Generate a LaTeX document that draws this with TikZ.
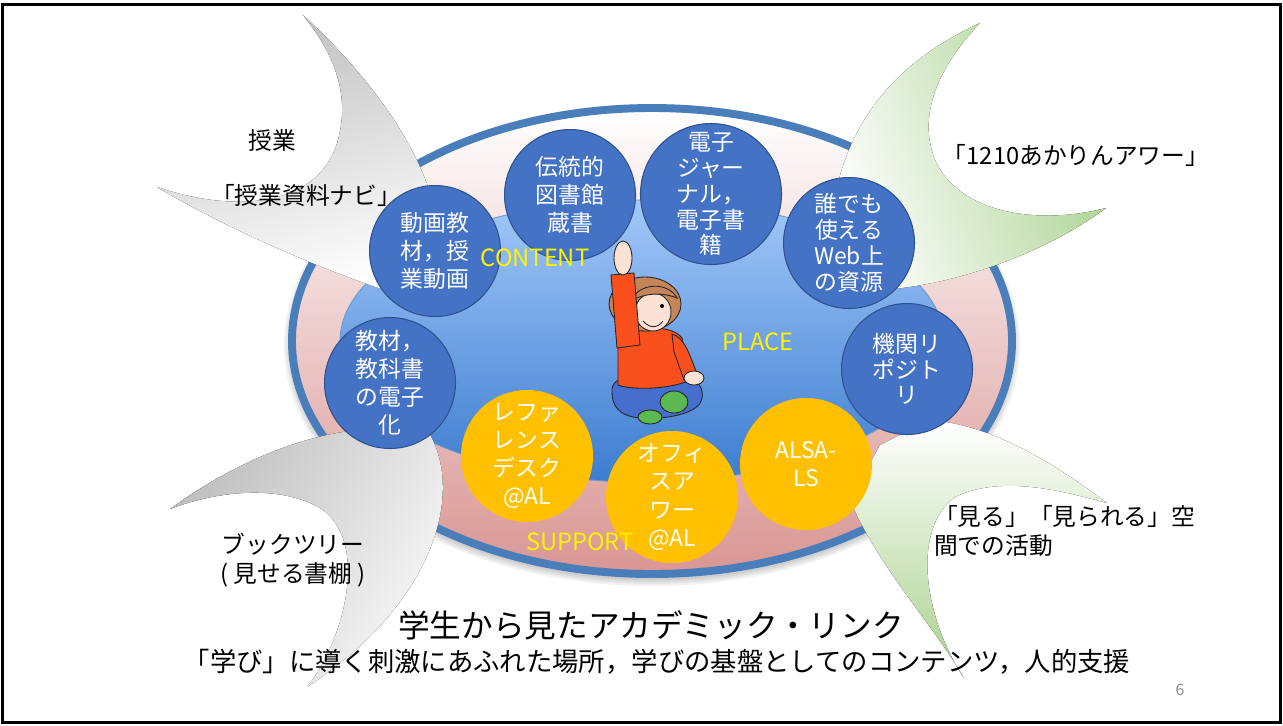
\documentclass[tikz,border=0pt]{standalone}
\usepackage{fontspec}
\setmainfont{Noto Sans CJK JP}

\definecolor{anillo}{RGB}{74,126,187}
\definecolor{rosa}{RGB}{217,150,148}
\definecolor{celeste}{RGB}{162,200,249}
\definecolor{azulfondo}{RGB}{60,124,207}
\definecolor{azulcirc}{RGB}{68,114,196}
\definecolor{azulborde}{RGB}{47,82,143}
\definecolor{amarillo}{RGB}{255,192,0}
\definecolor{verde}{RGB}{169,209,142}
\definecolor{gris}{RGB}{191,191,191}
\definecolor{camisa}{RGB}{250,80,30}
\definecolor{jean}{RGB}{70,110,205}
\definecolor{piel}{RGB}{252,226,212}
\definecolor{pelo}{RGB}{196,134,88}
\definecolor{zapato}{RGB}{92,184,80}

\begin{document}
\begin{tikzpicture}[x=0.02cm, y=-0.02cm]
    % Estilos de los circulos y textos
    \tikzset{
        recurso/.style={circle, fill=azulcirc, draw=azulborde, line width=0.6pt,
            minimum size=2.62cm, inner sep=0pt, text=white, align=center,
            font=\fontsize{13}{16}\selectfont},
        apretado/.style={font=\fontsize{13}{14.7}\selectfont},
        apoyo/.style={recurso, fill=amarillo, draw=amarillo},
        etiqueta/.style={text=yellow, font=\fontsize{13.5}{16}\selectfont},
        texto/.style={font=\fontsize{13.5}{16.4}\selectfont, align=center},
        contorno/.style={draw=black!85, line width=0.5pt}
    }

    \fill[white] (0,0) rectangle (1283,725);
    \useasboundingbox (0,0) rectangle (1283,725);

    % --- ELIPSES DE FONDO ---
    \foreach \d in {2,4,6,8}
        \fill[black, opacity=0.05] (652,345) ellipse [x radius=360+\d, y radius=233+\d];
    \draw[anillo, line width=4.5pt, top color=white, bottom color=rosa]
        (652,341) ellipse [x radius=360, y radius=233];
    \draw[anillo!80, line width=0.5pt, top color=celeste, bottom color=azulfondo]
        (642,341) ellipse [x radius=302, y radius=141];

    % --- ALAS ---
    % arriba izquierda
    \fill[top color=gris, bottom color=white, shading angle=15]
        (303,15) .. controls (390,95) and (440,180) .. (440,250) -- (400,295)
        .. controls (320,270) and (220,225) .. (157,187)
        .. controls (240,215) and (320,205) .. (338,140)
        .. controls (350,95) and (335,55) .. (303,15) -- cycle;
    % arriba derecha
    \fill[top color=white, bottom color=verde, shading angle=110]
        (980,23) .. controls (900,60) and (840,120) .. (830,230) -- (880,290)
        .. controls (960,285) and (1050,250) .. (1106,208)
        .. controls (1040,225) and (960,215) .. (935,160)
        .. controls (915,110) and (945,60) .. (980,23) -- cycle;
    % abajo izquierda
    \fill[top color=gris, bottom color=white!94!gris, shading angle=60]
        (170,509) .. controls (230,465) and (300,435) .. (360,430) -- (420,420)
        .. controls (470,480) and (440,600) .. (307,687)
        .. controls (345,640) and (370,540) .. (320,508)
        .. controls (280,485) and (220,490) .. (170,509) -- cycle;
    % abajo derecha
    \fill[top color=white, bottom color=verde]
        (1107,503) .. controls (1050,460) and (990,425) .. (930,420) -- (880,445) -- (850,500)
        .. controls (880,570) and (930,620) .. (964,678)
        .. controls (925,620) and (910,530) .. (955,497)
        .. controls (1000,475) and (1060,490) .. (1107,503) -- cycle;

    % --- CONTENIDOS ---
    \node[recurso] (coleccion) at (570,195) {伝統的\\図書館\\蔵書};
    \node[recurso, apretado] (revistas) at (711,194) {電子\\ジャー\\ナル，\\電子書\\籍};
    \node[recurso] (videos) at (435,251) {動画教\\材，授\\業動画};
    \node[recurso] (digital) at (390,383) {教材，\\教科書\\の電子\\化};
    \node[recurso, apretado] (web) at (849,243) {誰でも\\使える\\Web上\\の資源};
    \node[recurso, apretado] (repositorio) at (907,369) {機関リ\\ポジト\\リ};

    % --- APOYO ---
    \node[apoyo] (referencia) at (527,456) {レファ\\レンス\\デスク\\@AL};
    \node[apoyo] (oficina) at (672,497) {オフィ\\スア\\ワー\\@AL};
    \node[apoyo] (alsa) at (806,464) {ALSA-\\LS};

    \node[etiqueta] (content) at (535,258) {CONTENT};
    \node[etiqueta] (place) at (758,342) {PLACE};
    \node[etiqueta] (support) at (580,542) {SUPPORT};

    % --- ESTUDIANTE ---
    \begin{scope}[contorno]
        \filldraw[fill=jean] (612,392) .. controls (610,375) and (640,372) .. (660,378)
            .. controls (685,372) and (705,380) .. (702,398)
            .. controls (700,415) and (660,420) .. (640,418)
            .. controls (618,416) and (612,405) .. (612,392) -- cycle;
        \filldraw[fill=camisa] (618,335) .. controls (640,325) and (672,325) .. (682,338)
            -- (690,380) .. controls (670,390) and (630,390) .. (618,385) -- cycle;
        \filldraw[fill=pelo] (645,304) ellipse [x radius=36, y radius=27];
        \filldraw[fill=piel] (653,312) ellipse [x radius=18, y radius=19];
        \filldraw[fill=pelo] (632,300) .. controls (638,283) and (668,281) .. (677,298)
            .. controls (662,292) and (646,293) .. (632,300) -- cycle;
        \fill (662,306) circle [radius=2];
        \draw (643,321) .. controls (650,329) and (658,328) .. (663,321);
        \filldraw[fill=camisa] (611,275) -- (634,273) -- (640,345) -- (617,348) -- cycle;
        \filldraw[fill=piel] (623,258) ellipse [x radius=9, y radius=17];
        \filldraw[fill=camisa] (672,334) .. controls (684,338) and (688,350) .. (697,374)
            -- (684,380) -- (674,352) -- cycle;
        \filldraw[fill=piel] (694,378) ellipse [x radius=10, y radius=7];
        \filldraw[fill=zapato] (674,402) ellipse [x radius=14, y radius=11];
        \filldraw[fill=zapato] (650,417) ellipse [x radius=12, y radius=7];
    \end{scope}

    % --- TEXTOS ALREDEDOR ---
    \node[texto] (jugyo) at (272,140) {授業};
    \node[texto] (navi) at (306,195) {「授業資料ナビ」};
    \node[texto] (akarin) at (1076,155) {「1210あかりんアワー」};
    \node[texto, anchor=west, align=left] (espacio) at (928,531) {「見る」「見られる」空\\間での活動};
    \node[texto] (arbol) at (293,560) {ブックツリー\\( 見せる書棚 )};

    \node[font=\fontsize{18}{20}\selectfont] (titulo) at (651,625) {学生から見たアカデミック・リンク};
    \node[font=\fontsize{15}{18}\selectfont] (subtitulo) at (657,662)
        {「学び」に導く刺激にあふれた場所，学びの基盤としてのコンテンツ，人的支援};
    \node[text=black!45, font=\fontsize{9}{10}\selectfont] (pagina) at (1180,690) {6};

    % marco
    \draw[line width=1.7pt] (2.5,4.5) rectangle (1280,722);
\end{tikzpicture}
\end{document}
